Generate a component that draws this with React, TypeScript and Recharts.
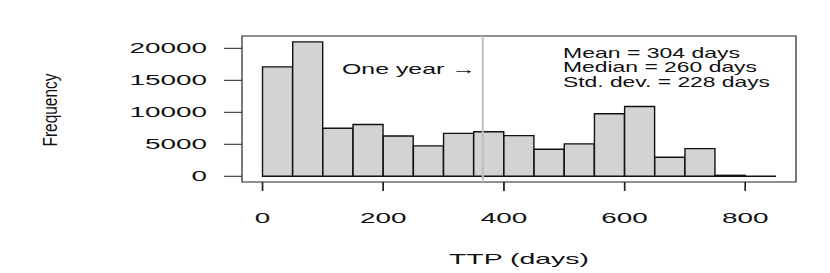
import React from 'react'
import {
  ComposedChart, Bar, XAxis, YAxis, ReferenceLine, ReferenceArea,
} from 'recharts'

// histogram bins of 50 days, counts
const binStarts = [0, 50, 100, 150, 200, 250, 300, 350, 400, 450, 500, 550, 600, 650, 700, 750, 800]
const counts = [17100, 21000, 7500, 8100, 6300, 4750, 6700, 6950, 6350, 4230, 5070,
  9770, 10900, 2980, 4330, 150, 30]
const BIN_W = 50

const xTicks = [0, 200, 400, 600, 800]
const yTicks = [0, 5000, 10000, 15000, 20000]
const oneYear = 365
const statLines = ['Mean = 304 days', 'Median = 260 days', 'Std. dev. = 228 days']

// axis ranges (R style, 4% extension)
const X_DOMAIN: [number, number] = [-34, 884]
const Y_DOMAIN: [number, number] = [-893, 21926]

const W = 830
const H = 273
const BOX = { left: 242, right: 796, top: 36, bottom: 182 }
const FONT = '"Liberation Sans", Arial, Helvetica, sans-serif'

const data = binStarts.map((start, i) => ({ bin: `${start}-${start + BIN_W}`, start, count: counts[i] }))

const binMin = binStarts[0]
const binMax = binStarts[binStarts.length - 1] + BIN_W
const plotW = BOX.right - BOX.left
const plotH = BOX.bottom - BOX.top
const padL = ((binMin - X_DOMAIN[0]) / (X_DOMAIN[1] - X_DOMAIN[0])) * plotW
const padR = ((X_DOMAIN[1] - binMax) / (X_DOMAIN[1] - X_DOMAIN[0])) * plotW

const CHAR_W = 15.5
const X_TICK_LEN = 9
// tick length expressed in y units, so the marks can hang below the box
const tickDrop = (X_TICK_LEN / plotH) * (Y_DOMAIN[1] - Y_DOMAIN[0])

function YTick({ x, y, payload }: any) {
  const s = String(payload.value)
  return (
    <text x={x} y={y} dy={5} textAnchor="end" fontSize={14.5} fontFamily={FONT} fill="#111"
      textLength={CHAR_W * s.length} lengthAdjust="spacingAndGlyphs">
      {s}
    </text>
  )
}

function XTick({ x, y, payload }: any) {
  const s = String(payload.value)
  return (
    <text x={x} y={y} dy={29.5} textAnchor="middle" fontSize={14.5} fontFamily={FONT} fill="#111"
      textLength={CHAR_W * s.length} lengthAdjust="spacingAndGlyphs">
      {s}
    </text>
  )
}

export default function App() {
  const yAxisW = 100
  const xAxisH = 30
  return (
    <div style={{ position: 'absolute', left: 0, top: 0, width: W, height: H, background: '#fff' }}>
      <ComposedChart width={W} height={H} data={data} barCategoryGap={0}
        margin={{ top: BOX.top, right: W - BOX.right, left: BOX.left - yAxisW, bottom: H - BOX.bottom - xAxisH }}>
        <XAxis xAxisId="num" dataKey="start" type="number" domain={X_DOMAIN} allowDataOverflow ticks={xTicks}
          height={xAxisH} axisLine={false} tickSize={X_TICK_LEN} tickMargin={2} tickLine={{ stroke: '#222', strokeWidth: 1.4 }}
          tick={<XTick />} interval={0} />
        <XAxis xAxisId="bins" dataKey="bin" type="category" hide height={0}
          padding={{ left: padL, right: padR }} />
        <YAxis type="number" domain={Y_DOMAIN} allowDataOverflow ticks={yTicks} width={yAxisW}
          axisLine={false} tickSize={18} tickMargin={17} tickLine={{ stroke: '#222' }}
          tick={<YTick />} interval={0} />
        <Bar xAxisId="bins" dataKey="count" fill="#d3d3d3" stroke="#111" strokeWidth={1.4}
          isAnimationActive={false} />
        <ReferenceLine xAxisId="num" x={oneYear} stroke="#bebebe" strokeWidth={2} />
        {xTicks.map(t => (
          <ReferenceLine key={t} xAxisId="num" ifOverflow="visible" stroke="#222" strokeWidth={1.4}
            segment={[{ x: t, y: Y_DOMAIN[0] }, { x: t, y: Y_DOMAIN[0] - tickDrop }]} />
        ))}
        <ReferenceArea xAxisId="num" x1={X_DOMAIN[0]} x2={X_DOMAIN[1]} y1={Y_DOMAIN[0]} y2={Y_DOMAIN[1]}
          fill="none" fillOpacity={0} stroke="#222" strokeWidth={1.2} strokeOpacity={1} ifOverflow="visible" />
        <text x={476} y={74} textAnchor="end" fontSize={14.5} fontFamily={FONT} fill="#111"
          textLength={134} lengthAdjust="spacingAndGlyphs">
          One year →
        </text>
        {statLines.map((line, i) => (
          <text key={line} x={563} y={57.7 + i * 14.5} fontSize={14.5} fontFamily={FONT} fill="#111"
            textLength={[177, 194, 207][i]} lengthAdjust="spacingAndGlyphs">
            {line}
          </text>
        ))}
        <text x={519} y={263.5} textAnchor="middle" fontSize={14.5} fontFamily={FONT} fill="#111"
          textLength={140} lengthAdjust="spacingAndGlyphs">
          TTP (days)
        </text>
        <text transform="translate(57,110) rotate(-90) scale(1,1.35)" textAnchor="middle"
          fontSize={15} fontFamily={FONT} fill="#111" textLength={73} lengthAdjust="spacingAndGlyphs">
          Frequency
        </text>
      </ComposedChart>
    </div>
  )
}
